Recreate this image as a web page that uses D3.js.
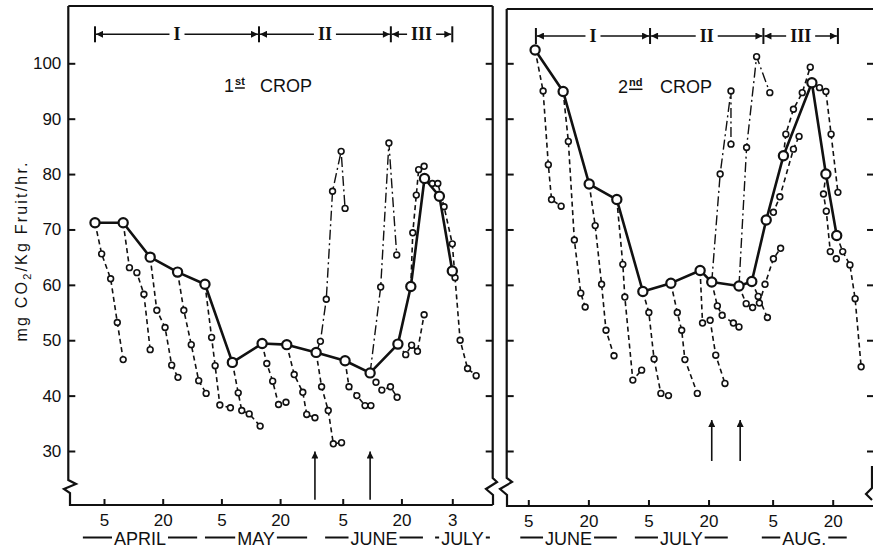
<!DOCTYPE html>
<html><head><meta charset="utf-8">
<script src="https://cdn.jsdelivr.net/npm/d3@7"></script>
<style>
body{margin:0;background:#fff;}
text{font-family:"Liberation Sans",Arial,sans-serif;fill:#111;}
</style></head><body>
<svg id="c" width="873" height="550"></svg>
<script>
// ---------- DATA (day-of-year, mg CO2/kg/hr) ----------
const yTicks = [30,40,50,60,70,80,90,100];
const crop1TickDays = [95,110,125,140,156,171,184];
const crop1TickLabels = ["5","20","5","20","5","20","3"];
const crop2TickDays = [156,171,186,201,217,232];
const crop2TickLabels = ["5","20","5","20","5","20"];
const crop1Months = ["APRIL","MAY","JUNE","JULY"];
const crop2Months = ["JUNE","JULY","AUG."];
const phaseLabels = ["I","II","III"];
const crop1Phases = [92.7,134.6,168.3,184.0];
const crop2Phases = [157.9,186.4,214.7,233.3];
const crop1Arrows = [148.9,163.0];
const crop2Arrows = [201.8,208.9];

const crop1Main = [[92.7,71.2],[99.9,71.2],[106.8,65.0],[113.8,62.3],[120.8,60.1],[127.8,46.0],[135.4,49.4],[141.7,49.2],[149.2,47.8],[156.6,46.3],[163.0,44.1],[170.1,49.3],[173.4,59.7],[176.9,79.2],[180.7,76.0],[184.0,62.5]];
const c1s1 = [[92.7,71.2],[94.4,65.6],[96.7,61.1],[98.4,53.2],[99.9,46.5]];
const c1s2 = [[99.9,71.2],[101.5,63.1],[103.4,62.2],[105.2,58.3],[106.8,48.3]];
const c1s3 = [[106.8,65.0],[108.5,55.4],[110.6,52.3],[112.3,45.5],[113.9,43.3]];
const c1s4 = [[113.8,62.3],[115.4,55.4],[117.3,49.2],[119.2,42.7],[121.1,40.4]];
const c1s5 = [[120.8,60.1],[122.5,50.5],[123.4,45.4],[124.6,38.3],[127.3,37.8]];
const c1s6 = [[127.8,46.0],[129.3,40.5],[130.2,37.3],[132.1,36.7],[134.9,34.5]];
const c1s7 = [[135.4,49.4],[136.6,45.8],[138.1,42.6],[139.6,38.4],[141.5,38.8]];
const c1s8 = [[141.7,49.2],[143.6,43.8],[145.8,40.6],[146.8,36.6],[148.9,36.0]];
const c1s9 = [[149.2,47.8],[150.6,41.6],[152.3,37.3],[153.6,31.3],[155.7,31.5]];
const c1s10 = [[156.6,46.3],[157.6,41.6],[159.6,40.0],[161.7,38.2],[163.2,38.2]];
const c1s11 = [[163.0,44.1],[164.5,42.4],[166.0,41.0],[168.2,41.6],[169.9,39.7]];
const c1s12 = [[170.1,49.3],[172.1,47.4],[173.6,49.1],[175.1,48.0],[176.8,54.6]];
const c1s13 = [[173.4,59.7],[173.9,69.4],[174.8,76.2],[175.4,80.8],[176.8,81.4]];
const c1s14 = [[176.9,79.2],[178.9,78.3],[180.3,78.3],[181.9,74.1],[184.0,67.4],[184.7,61.3],[186.0,50.0],[187.9,44.9],[190.1,43.6]];
const c1t1 = [[149.2,47.8],[150.3,49.8],[151.8,57.4],[153.4,76.9],[155.6,84.1],[156.6,73.8]];
const c1t2 = [[163.0,44.1],[165.7,59.6],[167.8,85.6],[169.8,65.4]];

const crop2Main = [[157.7,102.4],[164.7,94.9],[171.2,78.2],[178.1,75.4],[184.6,58.8],[191.6,60.3],[198.9,62.6],[201.8,60.5],[208.6,59.8],[211.8,60.6],[215.4,71.7],[219.7,83.3],[226.8,96.5],[230.3,80.0],[233.0,68.9]];
const c2s1 = [[157.7,102.4],[159.7,95.0],[161.0,81.7],[161.8,75.4],[164.2,74.2]];
const c2s2 = [[164.7,94.9],[166.0,85.9],[167.5,68.1],[169.1,58.5],[170.2,56.0]];
const c2s3 = [[171.2,78.2],[172.7,70.7],[174.3,60.1],[175.4,51.8],[177.4,47.2]];
const c2s4 = [[178.1,75.4],[179.6,63.7],[180.1,57.8],[182.1,42.8],[184.3,44.6]];
const c2s5 = [[184.6,58.8],[186.1,55.0],[187.4,46.6],[189.1,40.4],[191.0,40.0]];
const c2s6 = [[191.6,60.3],[193.2,55.0],[194.3,51.8],[195.1,46.5],[198.2,40.4]];
const c2s7 = [[198.9,62.6],[199.5,53.1],[201.4,53.6],[202.8,47.3],[205.1,42.2]];
const c2s8 = [[201.8,60.5],[203.2,56.2],[204.4,54.5],[207.2,53.1],[208.6,52.4]];
const c2s9 = [[211.8,60.6],[213.4,57.9],[215.7,54.1]];
const c2s10 = [[208.6,59.8],[210.4,56.6],[212.0,55.9],[213.7,56.7],[215.1,60.1],[217.2,64.7],[219.0,66.6]];
const c2s11 = [[215.4,71.7],[217.2,73.1],[218.8,75.9],[222.2,84.5],[223.6,86.8]];
const c2s12 = [[219.7,83.3],[220.3,87.2],[222.2,91.7],[224.4,94.7],[226.4,99.3]];
const c2s13 = [[226.8,96.5],[228.7,95.6],[230.3,94.9],[231.6,87.2],[233.3,76.7]];
const c2s14 = [[230.3,80.0],[229.7,76.4],[230.4,73.3],[231.4,66.0],[232.9,64.7]];
const c2s15 = [[233.0,68.9],[234.5,66.0],[236.3,63.6],[237.6,57.5],[239.1,45.2]];
const c2t1 = [[201.8,60.5],[203.9,80.0],[206.6,95.0],[206.6,85.4]];
const c2t2 = [[208.6,59.8],[210.5,84.8],[213.0,101.2],[216.3,94.7]];

// ---------- LAYOUT ----------
const svg = d3.select("#c");
const INK = "#111";
const y = d3.scaleLinear().domain([30,100]).range([451,63.3]);

const defs = svg.append("defs");
defs.append("marker").attr("id","ah").attr("viewBox","0 0 10 10")
  .attr("refX",10).attr("refY",5).attr("markerUnits","userSpaceOnUse")
  .attr("markerWidth",9).attr("markerHeight",7).attr("orient","auto-start-reverse")
  .append("path").attr("d","M0,0 L10,5 L0,10 Z").attr("fill",INK);

function panel(o){
  const x = d3.scaleLinear().domain(o.domain).range(o.range);
  const g = svg.append("g");
  const line = d3.line().x(d=>x(d[0])).y(d=>y(d[1]));

  // frame
  const fr = g.append("g").attr("fill","none").attr("stroke",INK).attr("stroke-width",2.2);
  o.frame.forEach(p=>fr.append("path").attr("d",p));

  // y axes
  const al = g.append("g").attr("transform",`translate(${o.left},0)`)
    .call(d3.axisLeft(y).tickValues(yTicks).tickSize(-7).tickPadding(7)
      .tickFormat(o.labels ? d3.format("d") : ""));
  const ar = g.append("g").attr("transform",`translate(${o.right},0)`)
    .call(d3.axisRight(y).tickValues(yTicks).tickSize(-7).tickFormat(""));
  // x axis
  const ab = g.append("g").attr("transform",`translate(0,${o.bottom})`)
    .call(d3.axisBottom(x).tickValues(o.tickDays).tickSize(-6).tickPadding(9)
      .tickFormat((d,i)=>o.tickLabels[i]));
  [al,ar,ab].forEach(a=>{
    a.select(".domain").remove();
    a.selectAll(".tick line").attr("stroke",INK).attr("stroke-width",2);
    a.selectAll("text").style("font-size","17px").attr("fill",INK);
  });

  // months
  o.months.forEach((m,i)=>{
    const sp = o.monthSpans[i];
    const cx = (x(sp[0])+x(sp[1]))/2;
    const t = g.append("text").attr("x",cx).attr("y",545).attr("text-anchor","middle")
      .style("font-size","18px").text(m);
    const w = t.node().getComputedTextLength();
    g.append("line").attr("x1",x(sp[0])).attr("x2",cx-w/2-2).attr("y1",537.5).attr("y2",537.5).attr("stroke",INK).attr("stroke-width",2);
    g.append("line").attr("x1",cx+w/2+2).attr("x2",x(sp[1])).attr("y1",537.5).attr("y2",537.5).attr("stroke",INK).attr("stroke-width",2);
  });

  // phase bracket
  const by = o.bracketY;
  o.phases.forEach(d=>{
    g.append("line").attr("x1",x(d)).attr("x2",x(d)).attr("y1",by-8).attr("y2",by+8)
      .attr("stroke",INK).attr("stroke-width",2);
  });
  for(let i=0;i<o.phases.length-1;i++){
    const a=x(o.phases[i]), b=x(o.phases[i+1]);
    g.append("line").attr("x1",a+1).attr("x2",b-1).attr("y1",by).attr("y2",by)
      .attr("stroke",INK).attr("stroke-width",1.6)
      .attr("marker-start","url(#ah)").attr("marker-end","url(#ah)");
    const t = g.append("text").attr("x",(a+b)/2).attr("y",by+6).attr("text-anchor","middle")
      .style("font-family","'Liberation Serif','DejaVu Serif',serif").style("font-size","18px")
      .style("font-weight","bold").text(phaseLabels[i]);
    const bb = t.node().getBBox();
    g.insert("rect", () => t.node()).attr("x",bb.x-4).attr("y",by-3).attr("width",bb.width+8)
      .attr("height",6).attr("fill","#fff");
  }

  // crop title
  const tg = g.append("g");
  const num = tg.append("text").attr("x",o.title.x).attr("y",o.title.y).style("font-size","18px").text(o.title.num);
  const nw = num.node().getComputedTextLength();
  const sx = o.title.x + nw + 1;
  const sup = tg.append("text").attr("x",sx).attr("y",o.title.y-7).style("font-size","11px")
    .style("font-weight","bold").text(o.title.sup);
  const sw = sup.node().getComputedTextLength();
  tg.append("line").attr("x1",sx).attr("x2",sx+sw).attr("y1",o.title.y-4).attr("y2",o.title.y-4)
    .attr("stroke",INK).attr("stroke-width",1.5);
  tg.append("text").attr("x",o.title.cropX).attr("y",o.title.y).style("font-size","18px").text("CROP");

  // treatment arrows
  o.arrows.forEach(d=>{
    g.append("line").attr("x1",x(d)).attr("x2",x(d)).attr("y1",y(o.arrowVals[0])).attr("y2",y(o.arrowVals[1]))
      .attr("stroke",INK).attr("stroke-width",1.6).attr("marker-end","url(#ah)");
  });

  // series
  o.dashed.forEach(s=>g.append("path").attr("d",line(s)).attr("fill","none").attr("stroke",INK)
    .attr("stroke-width",1.6).attr("stroke-dasharray","5,3.5"));
  o.dashdot.forEach(s=>g.append("path").attr("d",line(s)).attr("fill","none").attr("stroke",INK)
    .attr("stroke-width",1.4).attr("stroke-dasharray","10,3.5,2,3.5"));
  g.append("path").attr("d",line(o.main)).attr("fill","none").attr("stroke",INK)
    .attr("stroke-width",2.6).attr("stroke-linejoin","round");
  const small = [].concat(...o.dashed.map(s=>s.slice(1)), ...o.dashdot.map(s=>s.slice(1)));
  g.selectAll("circle.s").data(small).join("circle").attr("class","s")
    .attr("cx",d=>x(d[0])).attr("cy",d=>y(d[1])).attr("r",2.9)
    .attr("fill","#fff").attr("stroke",INK).attr("stroke-width",1.6);
  g.selectAll("circle.m").data(o.main).join("circle").attr("class","m")
    .attr("cx",d=>x(d[0])).attr("cy",d=>y(d[1])).attr("r",4.6)
    .attr("fill","#fff").attr("stroke",INK).attr("stroke-width",2.2);
}

panel({
  domain:[95,184], range:[104,452.3], left:68.3, right:492.7, bottom:505, labels:true,
  frame:["M68.3,6 H492.7",
         "M68.3,6 V480 L76,484 L64,489 L70,493 V505 H492.7",
         "M492.7,6 V478 L497,482 L486,489 L493,495 V505"],
  tickDays:crop1TickDays, tickLabels:crop1TickLabels,
  months:crop1Months, monthSpans:[[89.6,118.8],[120.8,146.9],[151.5,176.5],[179.6,193.6]],
  phases:crop1Phases, bracketY:34.3,
  title:{x:224,y:92,num:"1",sup:"st",cropX:260},
  arrows:crop1Arrows, arrowVals:[21.2,29.9],
  main:crop1Main,
  dashed:[c1s1,c1s2,c1s3,c1s4,c1s5,c1s6,c1s7,c1s8,c1s9,c1s10,c1s11,c1s12,c1s13,c1s14],
  dashdot:[c1t1,c1t2]
});
panel({
  domain:[156,232], range:[528.3,832.7], left:506.7, right:874, bottom:506, labels:false,
  frame:["M506.7,9 H874",
         "M506.7,9 V478 L512,482 L500,489 L507,495 V506 H874",
         "M872,466 V488 L866,494 L872,500"],
  tickDays:crop2TickDays, tickLabels:crop2TickLabels,
  months:crop2Months, monthSpans:[[154.0,178.1],[182.6,205.8],[214.3,235.5]],
  phases:crop2Phases, bracketY:36,
  title:{x:618,y:93.3,num:"2",sup:"nd",cropX:660},
  arrows:crop2Arrows, arrowVals:[28.2,35.6],
  main:crop2Main,
  dashed:[c2s1,c2s2,c2s3,c2s4,c2s5,c2s6,c2s7,c2s8,c2s9,c2s10,c2s11,c2s12,c2s13,c2s14,c2s15],
  dashdot:[c2t1,c2t2]
});

// y-axis title
svg.append("text").attr("transform","translate(27,252) rotate(-90)").attr("text-anchor","middle")
  .style("font-size","16px").attr("textLength",179).attr("lengthAdjust","spacing")
  .call(t=>{
    t.append("tspan").text("mg CO");
    t.append("tspan").attr("dy",4).style("font-size","11px").text("2");
    t.append("tspan").attr("dy",-4).text("/Kg Fruit/hr.");
  });
</script>
</body></html>
